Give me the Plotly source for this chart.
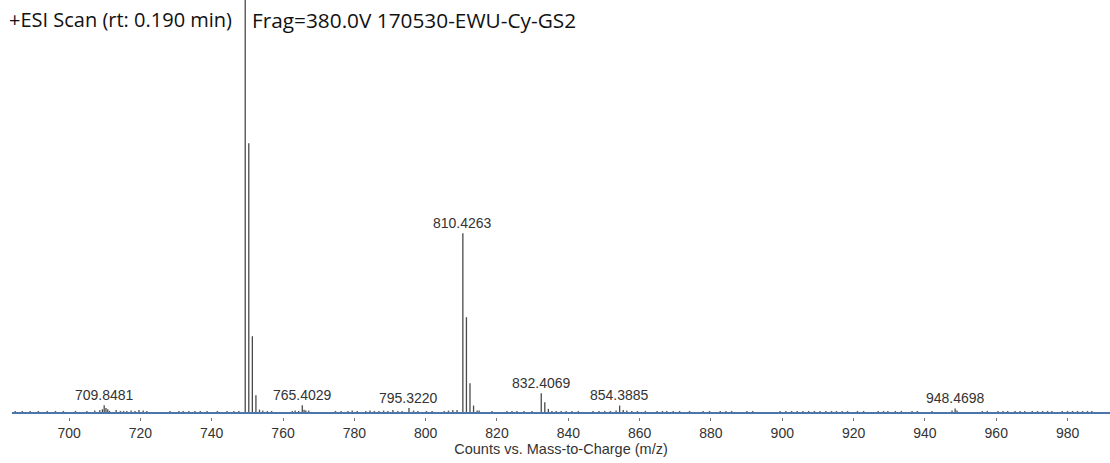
import plotly.graph_objects as go

# ---- data (relative abundance, %) ----
peak_mz = [709.35, 709.85, 710.35, 710.85, 711.35,
           749.40, 750.40, 751.40, 752.40, 753.40,
           764.40, 765.40, 765.90, 766.40,
           795.32,
           810.43, 811.43, 812.43, 813.43, 814.43,
           832.41, 833.41, 834.41,
           854.39, 855.40,
           948.47, 949.00]
peak_int = [0.9, 1.9, 1.2, 0.9, 0.5,
            100.0, 65.3, 18.6, 4.3, 0.8,
            0.5, 1.9, 0.8, 0.6,
            1.2,
            43.5, 23.2, 7.2, 1.8, 0.6,
            4.8, 2.6, 1.0,
            1.8, 0.7,
            1.1, 0.6]

label_mz = [709.8481, 765.4029, 795.3220, 810.4263, 832.4069, 854.3885, 948.4698]
label_int = [1.9, 1.9, 1.2, 43.5, 4.8, 2.0, 1.1]

noise_mz = [684.9, 686.9, 689.1, 691.4, 693.9, 696.2, 698.4, 701.8,
            705.0, 707.2, 708.6, 713.2, 714.4, 715.3, 716.2, 717.4, 718.5, 719.6, 720.8, 721.8,
            728.3, 730.8, 732.0, 733.6, 735.3, 736.8, 738.7, 741.6, 744.3, 746.2, 747.6,
            754.3, 755.6, 756.8, 762.6, 763.4, 767.2, 774.7, 776.3, 778.2, 779.4, 780.8,
            783.2, 784.4, 785.6, 786.9, 788.2, 789.4, 790.8, 792.2, 793.4, 796.6, 797.8,
            800.2, 801.8, 805.2, 806.4, 807.6, 808.8, 815.0, 818.6, 822.8, 824.2, 825.6,
            827.6, 829.8, 835.4, 836.6, 838.0, 839.4, 841.0, 842.8, 846.9, 848.6, 850.2,
            851.8, 853.4, 856.4, 857.8, 859.4, 861.6, 864.9, 866.4, 867.6, 869.4, 871.2,
            874.0, 877.8, 879.6, 882.6, 884.2, 885.8, 890.1, 891.7, 899.4, 901.0, 902.6,
            904.2, 905.8, 907.4, 909.0, 910.6, 912.2, 913.8, 915.2, 916.8, 918.3, 921.1,
            922.8, 926.9, 928.4, 929.6, 931.7, 933.4, 936.4, 937.9, 942.0, 947.6,
            956.1, 957.5, 960.5, 961.9, 963.2, 965.3, 966.7, 968.0, 970.1, 971.6, 973.0,
            974.4, 975.6, 978.5, 980.0, 981.4, 982.8, 984.2, 985.6, 986.8]
noise_int = [0.5, 0.5, 0.5, 0.5, 0.5, 0.5, 0.5, 0.5,
             0.5, 0.6, 0.7, 0.7, 0.5, 0.5, 0.5, 0.6, 0.5, 0.7, 0.6, 0.5,
             0.5, 0.5, 0.5, 0.5, 0.5, 0.5, 0.5, 0.5, 0.5, 0.5, 0.5,
             0.6, 0.5, 0.5, 0.5, 0.6, 0.6, 0.5, 0.5, 0.5, 0.6, 0.5,
             0.5, 0.6, 0.5, 0.5, 0.6, 0.5, 0.7, 0.5, 0.5, 0.6, 0.5,
             0.5, 0.5, 0.5, 0.6, 0.7, 0.7, 0.6, 0.5, 0.5, 0.5, 0.5,
             0.5, 0.5, 0.5, 0.5, 0.5, 0.5, 0.5, 0.5, 0.5, 0.5, 0.5,
             0.5, 0.6, 0.6, 0.5, 0.5, 0.5, 0.5, 0.5, 0.5, 0.5, 0.5,
             0.5, 0.5, 0.5, 0.5, 0.5, 0.5, 0.5, 0.5, 0.5, 0.5, 0.5,
             0.5, 0.5, 0.5, 0.5, 0.5, 0.5, 0.5, 0.5, 0.5, 0.5, 0.5,
             0.5, 0.5, 0.5, 0.5, 0.5, 0.5, 0.5, 0.5, 0.5, 0.6,
             0.5, 0.5, 0.5, 0.5, 0.5, 0.5, 0.5, 0.5, 0.5, 0.5, 0.5,
             0.5, 0.5, 0.5, 0.5, 0.5, 0.5, 0.5, 0.5, 0.5]

tick_vals = [700, 720, 740, 760, 780, 800, 820, 840, 860, 880, 900, 920, 940, 960, 980]

title_left = "+ESI Scan (rt: 0.190 min)"
title_right = "Frag=380.0V 170530-EWU-Cy-GS2"
x_title = "Counts vs. Mass-to-Charge (m/z)"


def sticks(mz, inten):
    xs, ys = [], []
    for m, i in zip(mz, inten):
        xs += [m, m, None]
        ys += [0, i, None]
    return xs, ys


fig = go.Figure()
nx, ny = sticks(noise_mz, noise_int)
fig.add_trace(go.Scatter(x=nx, y=ny, mode="lines",
                         line=dict(color="#666666", width=1.5), hoverinfo="skip"))
px_, py_ = sticks(peak_mz, peak_int)
fig.add_trace(go.Scatter(x=px_, y=py_, mode="lines",
                         line=dict(color="#4a4a4a", width=1.3), hoverinfo="skip"))

for m, i in zip(label_mz, label_int):
    fig.add_annotation(x=m, y=i, text=f"{m:.4f}", showarrow=False,
                       xanchor="center", yanchor="bottom", yshift=0,
                       font=dict(family="Liberation Sans, Arial", size=14, color="#333333"))

# baseline
fig.add_shape(type="line", xref="paper", yref="y", x0=0, x1=1, y0=0, y1=0,
              line=dict(color="#4a76ab", width=2))

fig.add_annotation(xref="paper", yref="paper", x=0, y=1, xshift=-5, yshift=-4,
                   xanchor="left", yanchor="top", text=title_left, showarrow=False,
                   font=dict(family="Open Sans, Noto Sans", size=20, color="#111111"))
fig.add_annotation(xref="x", yref="paper", x=750.6, y=1, yshift=-4,
                   xanchor="left", yanchor="top", text=title_right, showarrow=False,
                   font=dict(family="Open Sans, Noto Sans", size=20.8, color="#111111"))

fig.update_layout(
    width=1110, height=463,
    margin=dict(l=12, r=0, t=0, b=46),
    paper_bgcolor="white", plot_bgcolor="white",
    showlegend=False,
    xaxis=dict(range=[684.0, 991.9], tickvals=tick_vals, ticks="outside",
               ticklen=3, tickcolor="#777777", tickwidth=1,
               showgrid=False, zeroline=False, showline=False,
               tickfont=dict(family="Liberation Sans, Arial", size=14, color="#333333"),
               title=dict(text=x_title, standoff=2,
                          font=dict(family="Liberation Sans, Arial", size=14.5, color="#333333"))),
    yaxis=dict(range=[-0.97, 100], visible=False, showgrid=False, zeroline=False),
)

fig.write_html("out.html", config={"displayModeBar": False},
               post_script="document.body.style.margin='0';")
